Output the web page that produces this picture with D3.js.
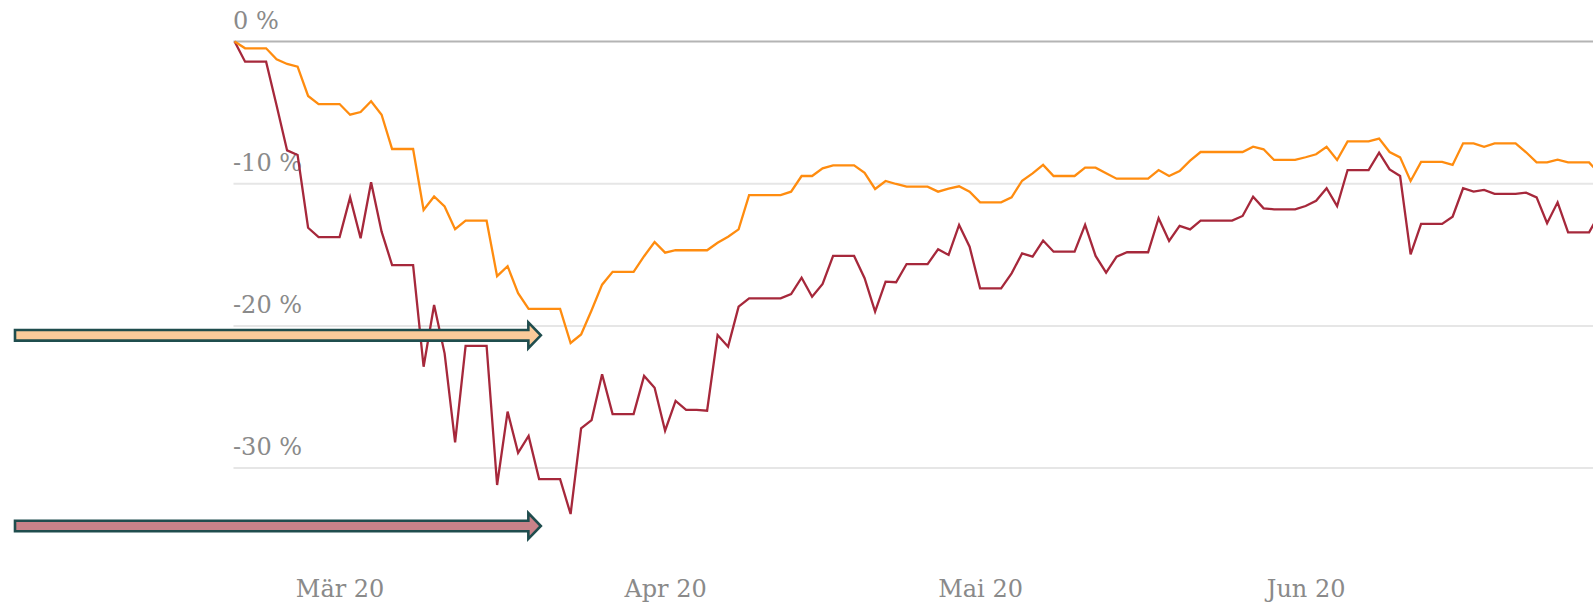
<!DOCTYPE html>
<html>
<head>
<meta charset="utf-8">
<script src="https://cdn.jsdelivr.net/npm/d3@7"></script>
<style>
  html, body { margin: 0; padding: 0; background: #fff; overflow: hidden; }
  svg { display: block; }
  .tick-label { font-family: "DejaVu Serif", serif; font-size: 24px; fill: #8a8a8a; }
</style>
</head>
<body>
<div id="chart"></div>
<script>
// Start date of both series (daily values, weekends carried forward)
const startDate = new Date(Date.UTC(2020, 1, 20));

// Drawdown in percent, orange series
const orangeValues = [
  0, -0.48, -0.48, -0.48, -1.25, -1.58, -1.77, -3.83, -4.4, -4.4,
  -4.4, -5.15, -4.96, -4.2, -5.15, -7.56, -7.56, -7.56, -11.85, -10.9,
  -11.6, -13.2, -12.6, -12.6, -12.6, -16.5, -15.8, -17.7, -18.8, -18.8,
  -18.8, -18.8, -21.2, -20.6, -18.9, -17.1, -16.2, -16.2, -16.2, -15.1,
  -14.1, -14.85, -14.68, -14.68, -14.68, -14.68, -14.15, -13.73, -13.21, -10.8,
  -10.8, -10.8, -10.8, -10.56, -9.46, -9.46, -8.92, -8.71, -8.71, -8.71,
  -9.23, -10.37, -9.81, -10.02, -10.21, -10.21, -10.21, -10.56, -10.35, -10.18,
  -10.56, -11.31, -11.31, -11.31, -10.96, -9.79, -9.27, -8.68, -9.46, -9.46,
  -9.46, -8.87, -8.87, -9.27, -9.65, -9.65, -9.65, -9.65, -9.04, -9.46,
  -9.11, -8.38, -7.77, -7.77, -7.77, -7.77, -7.77, -7.4, -7.58, -8.33,
  -8.33, -8.33, -8.14, -7.93, -7.4, -8.33, -7.02, -7.02, -7.02, -6.83,
  -7.77, -8.15, -9.81, -8.47, -8.47, -8.47, -8.68, -7.16, -7.16, -7.4,
  -7.16, -7.16, -7.16, -7.79, -8.5, -8.5, -8.31, -8.5, -8.5, -8.5,
  -9.3
];

// Drawdown in percent, dark red series
const redValues = [
  0, -1.42, -1.42, -1.42, -4.5, -7.66, -7.98, -13.1, -13.75, -13.75,
  -13.75, -10.96, -13.84, -9.9, -13.37, -15.72, -15.72, -15.72, -22.87, -18.53,
  -21.93, -28.19, -21.41, -21.41, -21.41, -31.19, -26.03, -28.92, -27.74, -30.77,
  -30.77, -30.77, -33.23, -27.2, -26.62, -23.4, -26.2, -26.2, -26.2, -23.52,
  -24.35, -27.37, -25.28, -25.9, -25.9, -25.96, -20.64, -21.46, -18.65, -18.06,
  -18.06, -18.06, -18.06, -17.76, -16.61, -17.95, -17.05, -15.08, -15.08, -15.08,
  -16.65, -19.0, -16.89, -16.93, -15.65, -15.65, -15.65, -14.61, -15.01, -12.9,
  -14.43, -17.36, -17.36, -17.36, -16.3, -14.9, -15.13, -14.0, -14.78, -14.78,
  -14.78, -12.9, -15.08, -16.26, -15.13, -14.82, -14.82, -14.82, -12.43, -14.03,
  -12.97, -13.21, -12.6, -12.6, -12.6, -12.6, -12.27, -10.91, -11.73, -11.8,
  -11.8, -11.8, -11.57, -11.2, -10.32, -11.57, -9.04, -9.04, -9.04, -7.82,
  -9.0, -9.46, -14.97, -12.83, -12.83, -12.83, -12.32, -10.32, -10.56, -10.44,
  -10.72, -10.72, -10.72, -10.63, -10.96, -12.78, -11.31, -13.42, -13.42, -13.42,
  -12.1
];

// Axis ticks
const yTicks = [0, -10, -20, -30];
const xTickDates = [
  new Date(Date.UTC(2020, 2, 1)),
  new Date(Date.UTC(2020, 3, 1)),
  new Date(Date.UTC(2020, 4, 1)),
  new Date(Date.UTC(2020, 5, 1))
];
const xTickLabels = ["Mär 20", "Apr 20", "Mai 20", "Jun 20"];

// Arrow markers at the left (level in percent, tip date)
const arrowLevels = [-20.66, -34.07];
const arrowTipDate = new Date(Date.UTC(2020, 2, 20, 4));

const width = 1593, height = 603;
const lineColors = ["#ff8c0f", "#a6283b"];
const arrowFills = ["#fbcb9a", "#c98289"];

const toSeries = values => values.map((v, i) => ({ date: d3.utcDay.offset(startDate, i), value: v }));
const orangeData = toSeries(orangeValues);
const redData = toSeries(redValues);

const x = d3.scaleUtc()
  .domain([startDate, d3.utcDay.offset(startDate, 130)])
  .range([234.6, 234.6 + 130 * 10.5]);

const y = d3.scaleLinear()
  .domain([-35, 0])
  .range([41.5 + 35 * 14.22, 41.5]);

const svg = d3.select("#chart").append("svg")
  .attr("width", width)
  .attr("height", height);

// Horizontal grid lines (the zero line is darker)
svg.append("g")
  .selectAll("line")
  .data(yTicks)
  .join("line")
  .attr("x1", 233.5)
  .attr("x2", width)
  .attr("y1", d => y(d))
  .attr("y2", d => y(d))
  .attr("stroke", d => d === 0 ? "#b4b4b4" : "#e6e6e6")
  .attr("stroke-width", 2);

// Y labels sit above their grid line
svg.append("g")
  .selectAll("text")
  .data(yTicks)
  .join("text")
  .attr("class", "tick-label")
  .attr("x", 233)
  .attr("y", d => y(d) - 13)
  .text(d => `${d} %`);

// X labels, centred on month starts
const xAxis = d3.axisBottom(x)
  .tickValues(xTickDates)
  .tickSize(0)
  .tickFormat((d, i) => xTickLabels[i]);

const xAxisGroup = svg.append("g")
  .attr("transform", "translate(0, 575)")
  .call(xAxis);
xAxisGroup.select(".domain").remove();
xAxisGroup.selectAll("text")
  .attr("class", "tick-label")
  .attr("dy", null)
  .attr("y", 22);

// Lines
const line = d3.line()
  .x(d => x(d.date))
  .y(d => y(d.value));

svg.append("g")
  .selectAll("path")
  .data([redData, orangeData])
  .join("path")
  .attr("d", line)
  .attr("fill", "none")
  .attr("stroke", (d, i) => i === 0 ? lineColors[1] : lineColors[0])
  .attr("stroke-width", 2.3)
  .attr("stroke-linejoin", "miter");

// Block arrows pointing at the lows
const tipX = x(arrowTipDate);
const arrowPath = level => {
  const cy = y(level);
  const shaft = 5.3, head = 12.9, headLen = 12.5, left = 15;
  return d3.line()([
    [left, cy - shaft], [tipX - headLen, cy - shaft], [tipX - headLen, cy - head],
    [tipX, cy], [tipX - headLen, cy + head], [tipX - headLen, cy + shaft],
    [left, cy + shaft]
  ]) + "Z";
};

svg.append("g")
  .selectAll("path")
  .data(arrowLevels)
  .join("path")
  .attr("d", d => arrowPath(d))
  .attr("fill", (d, i) => arrowFills[i])
  .attr("stroke", "#1f4d4e")
  .attr("stroke-width", 2.6)
  .attr("stroke-linejoin", "miter");
</script>
</body>
</html>
